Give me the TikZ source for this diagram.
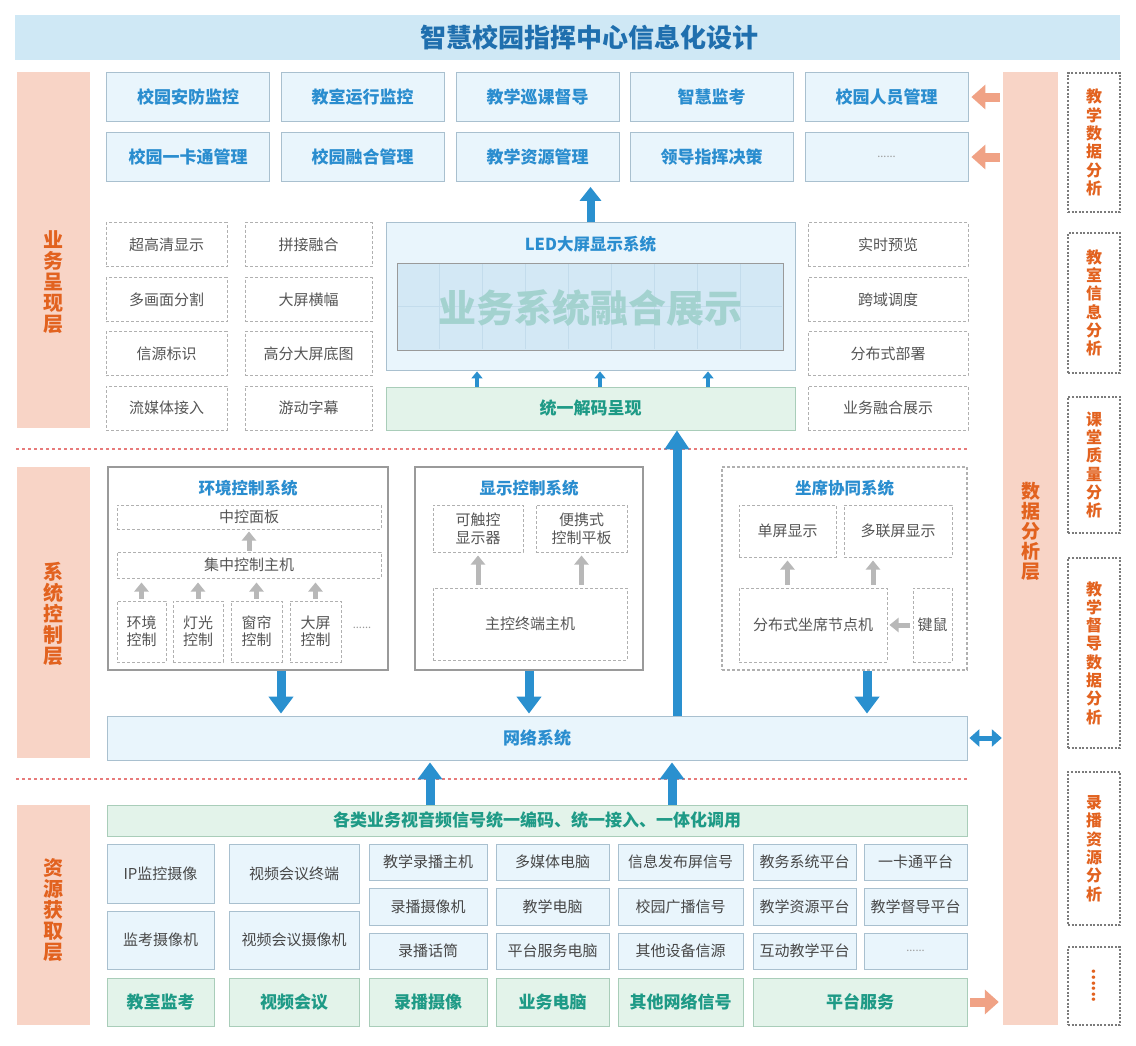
\documentclass[tikz,border=0pt]{standalone}
\usepackage{fontspec}
\setmainfont{Noto Sans CJK SC}
\usepackage{tikz}
\usetikzlibrary{arrows.meta,positioning}

\definecolor{titlefill}{HTML}{CFE8F5}
\definecolor{titleblue}{HTML}{1F6FAE}
\definecolor{boxfill}{HTML}{E9F5FC}
\definecolor{boxline}{HTML}{A9C0CF}
\definecolor{textblue}{HTML}{2A8DCF}
\definecolor{layerfill}{HTML}{F8D4C6}
\definecolor{layertext}{HTML}{E2621F}
\definecolor{greenfill}{HTML}{E3F3EA}
\definecolor{greenline}{HTML}{A9CDB9}
\definecolor{greentext}{HTML}{1E9A86}
\definecolor{arrowblue}{HTML}{2A90CF}
\definecolor{arrowgray}{HTML}{B8B8B8}
\definecolor{arroworange}{HTML}{F0A285}
\definecolor{dashgray}{HTML}{B0B0B0}
\definecolor{graytext}{HTML}{555555}
\definecolor{restext}{HTML}{474747}
\definecolor{sysline}{HTML}{9A9A9A}
\definecolor{redline}{HTML}{E77B7B}
\definecolor{ledtext}{HTML}{A3D2CF}
\definecolor{screenfill}{HTML}{D3E8F5}
\definecolor{gridcol}{HTML}{C3DCEC}

\tikzset{
  titlebar/.style={fill=titlefill, minimum width=1105pt, minimum height=45pt, inner sep=0pt},
  titletext/.style={text=titleblue, inner sep=0pt, font=\fontsize{26}{29}\selectfont\bfseries},
  layerbar/.style={fill=layerfill, minimum width=73pt, inner sep=0pt},
  layerlabel/.style={text=layertext, align=center, inner sep=0pt, font=\fontsize{20}{21}\selectfont\bfseries},
  appbox/.style={draw=boxline, fill=boxfill, line width=0.8pt, minimum width=163pt, minimum height=49pt, inner sep=0pt, text=textblue, font=\fontsize{17}{20}\selectfont\bfseries},
  featbox/.style={draw=dashgray, dash pattern=on 3pt off 2pt, line width=1pt, fill=white, minimum height=44pt, inner sep=0pt, align=center, text=graytext, font=\fontsize{15}{18}\selectfont},
  sysbox/.style={draw=sysline, line width=1.2pt, fill=white, minimum height=203pt, inner sep=0pt},
  systitle/.style={text=textblue, inner sep=0pt, font=\fontsize{16.5}{19}\selectfont\bfseries},
  netbox/.style={draw=boxline, fill=boxfill, line width=0.8pt, inner sep=0pt, text=textblue, font=\fontsize{17}{20}\selectfont\bfseries},
  greenbox/.style={draw=greenline, fill=greenfill, line width=0.8pt, inner sep=0pt, text=greentext, font=\fontsize{17}{20}\selectfont\bfseries},
  resbox/.style={draw=boxline, fill=boxfill, line width=0.8pt, inner sep=0pt, text=restext, font=\fontsize{15}{18}\selectfont},
  anbox/.style={draw=sysline!80!black, dash pattern=on 2pt off 1.6pt, line width=1.3pt, minimum width=52pt, inner sep=0pt, align=center, text=layertext, font=\fontsize{16}{18.3}\selectfont\bfseries},
  bluearrow/.style={draw=arrowblue, line width=9pt, -{Triangle[length=17pt,width=24pt]}},
  smallarrow/.style={draw=arrowblue, line width=3.5pt, -{Triangle[length=7pt,width=11pt]}},
  grayarrow/.style={draw=arrowgray, line width=5pt, -{Triangle[length=9pt,width=14pt]}},
  orangearrow/.style={draw=arroworange, line width=9pt, -{Triangle[length=14pt,width=24pt]}},
  dblarrow/.style={draw=arrowblue, line width=5pt, {Triangle[length=10pt,width=17pt]}-{Triangle[length=10pt,width=17pt]}},
  sepline/.style={draw=redline, line width=1.2pt, dash pattern=on 3pt off 3pt},
}

\begin{document}
\begin{tikzpicture}[x=1pt,y=-1pt]
\useasboundingbox (0,0) rectangle (1136,1045);
\fill[white] (0,0) rectangle (1136,1045);

% Title
\node[titlebar] (title) at (567.5,37.5) {};
\node[titletext] (titlelab) at (589,37.5) {智慧校园指挥中心信息化设计};

% Layer bars
\node[layerbar, minimum height=356pt] (showbar) at (53.5,250) {};
\node[layerlabel] (showlab) at (53.5,282) {业\\务\\呈\\现\\层};
\node[layerbar, minimum height=291pt] (ctrlbar) at (53.5,612.5) {};
\node[layerlabel] (ctrllab) at (53.5,614) {系\\统\\控\\制\\层};
\node[layerbar, minimum height=220pt] (srcbar) at (53.5,915) {};
\node[layerlabel] (srclab) at (53.5,910) {资\\源\\获\\取\\层};
\node[layerbar, minimum width=55pt, minimum height=953pt] (databar) at (1030.5,548.5) {};
\node[layerlabel, font=\fontsize{19}{20}\selectfont\bfseries] (datalab) at (1030.5,531) {数\\据\\分\\析\\层};

% Analysis boxes
\node[anbox, minimum height=139pt] (an1) at (1094,142.5) {教\\学\\数\\据\\分\\析};
\node[anbox, minimum height=140pt] (an2) at (1094,303) {教\\室\\信\\息\\分\\析};
\node[anbox, minimum height=136pt] (an3) at (1094,465) {课\\堂\\质\\量\\分\\析};
\node[anbox, minimum height=190pt] (an4) at (1094,653) {教\\学\\督\\导\\数\\据\\分\\析};
\node[anbox, minimum height=153pt] (an5) at (1094,848.5) {录\\播\\资\\源\\分\\析};
\node[anbox, minimum height=78pt] (an6) at (1094,986) {\rotatebox{90}{......}};

% Business applications
\node[appbox] (app1) at (188,97) {校园安防监控};
\node[appbox] (app2) at (362.5,97) {教室运行监控};
\node[appbox] (app3) at (537.5,97) {教学巡课督导};
\node[appbox] (app4) at (711.5,97) {智慧监考};
\node[appbox] (app5) at (886.5,97) {校园人员管理};
\node[appbox] (app6) at (188,157) {校园一卡通管理};
\node[appbox] (app7) at (362.5,157) {校园融合管理};
\node[appbox] (app8) at (537.5,157) {教学资源管理};
\node[appbox] (app9) at (711.5,157) {领导指挥决策};
\node[appbox, font=\fontsize{11}{13}\selectfont, text=sysline] (app10) at (886.5,157) {......};
\draw[orangearrow, shorten <=3pt, shorten >=3pt] (app5.east -| databar.west) -- (app5.east);
\draw[orangearrow, shorten <=3pt, shorten >=3pt] (app10.east -| databar.west) -- (app10.east);

% Display features
\node[featbox, minimum width=121pt] (f1) at (166.5,244.5) {超高清显示};
\node[featbox, minimum width=127pt] (f2) at (308.5,244.5) {拼接融合};
\node[featbox, minimum width=121pt] (f3) at (166.5,299.5) {多画面分割};
\node[featbox, minimum width=127pt] (f4) at (308.5,299.5) {大屏横幅};
\node[featbox, minimum width=121pt] (f5) at (166.5,353.5) {信源标识};
\node[featbox, minimum width=127pt] (f6) at (308.5,353.5) {高分大屏底图};
\node[featbox, minimum width=121pt] (f7) at (166.5,408) {流媒体接入};
\node[featbox, minimum width=127pt] (f8) at (308.5,408) {游动字幕};
\node[featbox, minimum width=160pt] (r1) at (888,244.5) {实时预览};
\node[featbox, minimum width=160pt] (r2) at (888,299.5) {跨域调度};
\node[featbox, minimum width=160pt] (r3) at (888,353.5) {分布式部署};
\node[featbox, minimum width=160pt] (r4) at (888,408) {业务融合展示};

% LED wall
\node[netbox, minimum width=409pt, minimum height=148pt] (led) at (590.5,296) {};
\node[systitle] (ledtitle) at (590.5,244) {LED大屏显示系统};
\node[draw=sysline, fill=screenfill, line width=1pt, minimum width=386pt, minimum height=87pt, inner sep=0pt] (screen) at (590,306.5) {};
\foreach \i in {1,...,8}
  \draw[gridcol, line width=0.8pt] ({397+\i*42.89},264) -- ({397+\i*42.89},349);
\draw[gridcol, line width=0.8pt] (398,306.5) -- (782,306.5);
\node[text=ledtext, inner sep=0pt, font=\fontsize{38}{42}\selectfont\bfseries] (ledtext) at (590,308) {业务系统融合展示};
\draw[bluearrow, line width=8pt, -{Triangle[length=14pt,width=21pt]}, shorten >=5pt] (led.north) -- (led.north |- app8.south);

\node[greenbox, minimum width=409pt, minimum height=43pt] (decode) at (590.5,408.5) {统一解码呈现};
\coordinate (sa) at (477,0);
\coordinate (sb) at (600,0);
\coordinate (sc) at (708,0);
\foreach \p in {sa,sb,sc}
  \draw[smallarrow, shorten >=1pt] (decode.north -| \p) -- (led.south -| \p);

% Layer separators
\draw[sepline] (16,449) -- (968,449);
\draw[sepline] (16,779) -- (968,779);

% Environment control
\node[sysbox, minimum width=280pt] (envsys) at (248,568.5) {};
\node[systitle] (envtitle) at (248,488) {环境控制系统};
\node[featbox, minimum width=264pt, minimum height=24pt] (panel) at (249,517) {中控面板};
\node[featbox, minimum width=264pt, minimum height=26pt] (host) at (249,565) {集中控制主机};
\draw[grayarrow, shorten <=1pt, shorten >=2pt] (host.north) -- (panel.south);
\node[featbox, minimum width=49pt, minimum height=61pt, font=\fontsize{15}{17}\selectfont] (c1) at (141.5,631.5) {环境\\控制};
\node[featbox, minimum width=50pt, minimum height=61pt, font=\fontsize{15}{17}\selectfont] (c2) at (198,631.5) {灯光\\控制};
\node[featbox, minimum width=51pt, minimum height=61pt, font=\fontsize{15}{17}\selectfont] (c3) at (256.5,631.5) {窗帘\\控制};
\node[featbox, minimum width=51pt, minimum height=61pt, font=\fontsize{15}{17}\selectfont] (c4) at (315.5,631.5) {大屏\\控制};
\node[text=sysline, font=\fontsize{11}{13}\selectfont, inner sep=0pt] (cmore) at (362,628) {......};
\foreach \n in {c1,c2,c3,c4}
  \draw[grayarrow, shorten <=2pt, shorten >=4pt] (\n.north) -- (\n.north |- host.south);

% Display control
\node[sysbox, minimum width=228pt] (dispsys) at (529,568.5) {};
\node[systitle] (disptitle) at (529,488) {显示控制系统};
\node[featbox, minimum width=90pt, minimum height=47pt, font=\fontsize{15}{18}\selectfont] (touch) at (478,528.5) {可触控\\显示器};
\node[featbox, minimum width=91pt, minimum height=47pt, font=\fontsize{15}{18}\selectfont] (tablet) at (581.5,528.5) {便携式\\控制平板};
\node[featbox, minimum width=194pt, minimum height=72pt] (master) at (530,624) {主控终端主机};
\draw[grayarrow, shorten <=3pt, shorten >=3pt] (master.north -| touch) -- (touch.south);
\draw[grayarrow, shorten <=3pt, shorten >=3pt] (master.north -| tablet) -- (tablet.south);

% Seat collaboration
\node[sysbox, dash pattern=on 3pt off 2pt, draw=dashgray] (seatsys) at (844.5,568.5) [minimum width=245pt] {};
\node[systitle] (seattitle) at (844.5,488) {坐席协同系统};
\node[featbox, minimum width=97pt, minimum height=52pt] (single) at (787.5,531) {单屏显示};
\node[featbox, minimum width=108pt, minimum height=52pt] (multi) at (898,531) {多联屏显示};
\node[featbox, minimum width=148pt, minimum height=74pt] (seatpc) at (813,625) {分布式坐席节点机};
\node[featbox, minimum width=39pt, minimum height=74pt] (kbm) at (932.5,625) {键鼠};
\coordinate (mx) at (873,0);
\draw[grayarrow, shorten <=3pt, shorten >=3pt] (seatpc.north -| single) -- (single.south);
\draw[grayarrow, shorten <=3pt, shorten >=3pt] (seatpc.north -| mx) -- (multi.south -| mx);
\draw[grayarrow, shorten <=3pt, shorten >=2pt] (kbm.west) -- (seatpc.east);

% Network
\node[netbox, minimum width=860pt, minimum height=44pt] (net) at (537,738) {网络系统};
\coordinate (dx1) at (281,0);
\coordinate (dx3) at (867,0);
\coordinate (upx) at (677,0);
\draw[bluearrow, shorten >=2pt] (envsys.south -| dx1) -- (net.north -| dx1);
\draw[bluearrow, shorten >=2pt] (dispsys.south) -- (dispsys.south |- net.north);
\draw[bluearrow, shorten >=2pt] (seatsys.south -| dx3) -- (net.north -| dx3);
\draw[bluearrow, -{Triangle[length=19pt,width=24pt]}] (net.north -| upx) -- (decode.south -| upx);
\draw[dblarrow, shorten <=2pt, shorten >=1pt] (net.east) -- (net.east -| databar.west);

% Resources
\node[greenbox, minimum width=860pt, minimum height=31pt] (encode) at (537,820.5) {各类业务视音频信号统一编码、统一接入、一体化调用};
\coordinate (ux1) at (430,0);
\coordinate (ux2) at (672,0);
\draw[bluearrow, shorten >=2pt] (encode.north -| ux1) -- (net.south -| ux1);
\draw[bluearrow, shorten >=2pt] (encode.north -| ux2) -- (net.south -| ux2);

\node[resbox, minimum width=107pt, minimum height=59pt] (ipcam) at (160.5,873.5) {IP监控摄像};
\node[resbox, minimum width=107pt, minimum height=58pt] (examcam) at (160.5,940) {监考摄像机};
\node[resbox, minimum width=130pt, minimum height=59pt] (vcterm) at (294,873.5) {视频会议终端};
\node[resbox, minimum width=130pt, minimum height=58pt] (vccam) at (294,940) {视频会议摄像机};

\node[resbox, minimum width=118pt, minimum height=36pt] (rechost) at (428,862) {教学录播主机};
\node[resbox, minimum width=118pt, minimum height=37pt] (reccam) at (428,906.5) {录播摄像机};
\node[resbox, minimum width=118pt, minimum height=36pt] (recmic) at (428,951) {录播话筒};
\node[resbox, minimum width=113pt, minimum height=36pt] (mmpc) at (552.5,862) {多媒体电脑};
\node[resbox, minimum width=113pt, minimum height=37pt] (teachpc) at (552.5,906.5) {教学电脑};
\node[resbox, minimum width=113pt, minimum height=36pt] (platpc) at (552.5,951) {平台服务电脑};
\node[resbox, minimum width=125pt, minimum height=36pt] (infosig) at (680.5,862) {信息发布屏信号};
\node[resbox, minimum width=125pt, minimum height=37pt] (bcsig) at (680.5,906.5) {校园广播信号};
\node[resbox, minimum width=125pt, minimum height=36pt] (othersrc) at (680.5,951) {其他设备信源};
\node[resbox, minimum width=103pt, minimum height=36pt] (eduplat) at (804.5,862) {教务系统平台};
\node[resbox, minimum width=103pt, minimum height=37pt] (resplat) at (804.5,906.5) {教学资源平台};
\node[resbox, minimum width=103pt, minimum height=36pt] (interplat) at (804.5,951) {互动教学平台};
\node[resbox, minimum width=103pt, minimum height=36pt] (cardplat) at (915.5,862) {一卡通平台};
\node[resbox, minimum width=103pt, minimum height=37pt] (supplat) at (915.5,906.5) {教学督导平台};
\node[resbox, minimum width=103pt, minimum height=36pt, font=\fontsize{11}{13}\selectfont, text=sysline] (moreplat) at (915.5,951) {......};

\node[greenbox, minimum width=107pt, minimum height=48pt] (gmon) at (160.5,1002) {教室监考};
\node[greenbox, minimum width=130pt, minimum height=48pt] (gvc) at (294,1002) {视频会议};
\node[greenbox, minimum width=118pt, minimum height=48pt] (grec) at (428,1002) {录播摄像};
\node[greenbox, minimum width=113pt, minimum height=48pt] (gpc) at (552.5,1002) {业务电脑};
\node[greenbox, minimum width=125pt, minimum height=48pt] (gnet) at (680.5,1002) {其他网络信号};
\node[greenbox, minimum width=214pt, minimum height=48pt] (gplat) at (860,1002) {平台服务};
\draw[orangearrow, shorten <=3pt, shorten >=4pt] (gplat.east) -- (gplat.east -| databar.west);
\end{tikzpicture}
\end{document}
